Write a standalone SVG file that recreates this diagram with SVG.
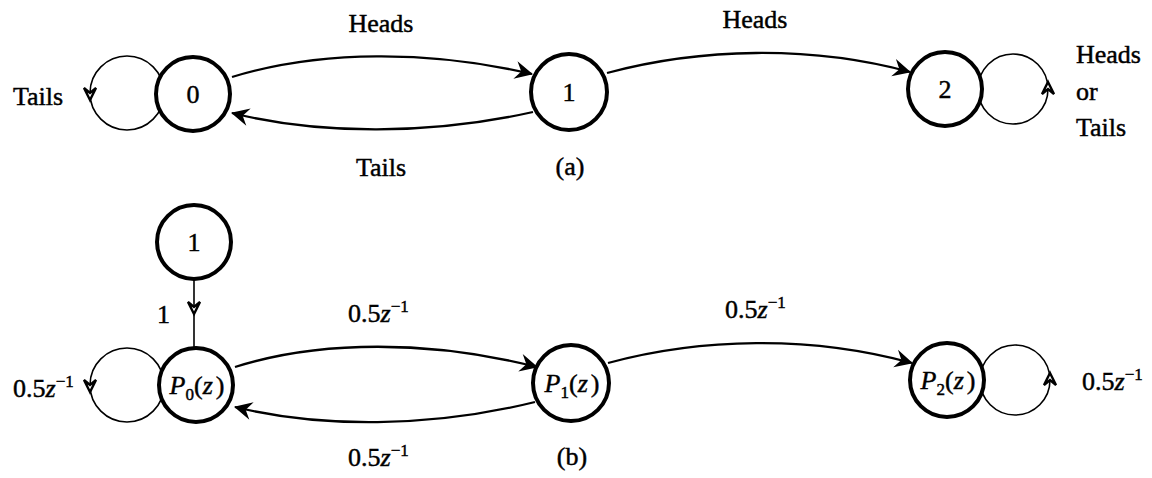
<svg xmlns="http://www.w3.org/2000/svg" width="1152" height="478" viewBox="0 0 1152 478">
<defs>
<style>
text{font-family:"Liberation Serif","Times New Roman",serif;font-size:26px;fill:#000;stroke:#000;stroke-width:0.45}
.node{fill:#fff;stroke:#000;stroke-width:4}
.loop{fill:none;stroke:#000;stroke-width:1.6}
.edge{fill:none;stroke:#000;stroke-width:2.3}
.open{fill:#fff;stroke:#000;stroke-width:2.4;stroke-linejoin:miter}
.it{font-style:italic}
.sub{font-size:17px}
</style>
<marker id="ah" viewBox="-18 -10 20 20" refX="0" refY="0" markerWidth="20" markerHeight="20" markerUnits="userSpaceOnUse" orient="auto">
<path d="M1,0 L-17,-9 L-11,0 L-17,9 Z" fill="#000"/>
</marker>
</defs>

<g id="connectors">
<path class="edge" d="M232,77 C320,50 430,50 532,74" marker-end="url(#ah)"/>
<path class="edge" d="M533,112 C430,135 320,135 232,113" marker-end="url(#ah)"/>
<path class="edge" d="M607,73 C700,48 810,45 910,72" marker-end="url(#ah)"/>
<circle class="loop" cx="127" cy="93" r="37"/>
<path class="open" d="M90,100 L84,88 L90,93 L96,88 Z"/>
<circle class="loop" cx="1013" cy="89" r="35"/>
<path class="open" d="M1048,82 L1054,94 L1048,89 L1042,94 Z"/>

<path class="edge" d="M235,367 C320,340 430,340 537,367" marker-end="url(#ah)"/>
<path class="edge" d="M535,402 C430,428 320,428 235,407" marker-end="url(#ah)"/>
<path class="edge" d="M608,363 C700,338 810,335 912,363" marker-end="url(#ah)"/>
<path class="loop" d="M194,279 L194,347"/>
<path class="open" d="M194,314 L188,302 L194,307 L200,302 Z"/>
<circle class="loop" cx="127" cy="385" r="37"/>
<path class="open" d="M90,392 L84,380 L90,385 L96,380 Z"/>
<circle class="loop" cx="1015" cy="380" r="35"/>
<path class="open" d="M1050,373 L1056,385 L1050,380 L1044,385 Z"/>
</g>

<g id="node-a0"><circle class="node" cx="193" cy="94" r="37" stroke-width="4.5"/><text x="193" y="103" text-anchor="middle">0</text></g>
<g id="node-a1"><circle class="node" cx="569" cy="92" r="38" stroke-width="3.5"/><text x="569" y="101" text-anchor="middle">1</text></g>
<g id="node-a2"><circle class="node" cx="945" cy="89" r="37" stroke-width="4.5"/><text x="945" y="98" text-anchor="middle">2</text></g>

<g id="node-b-one"><circle class="node" cx="194" cy="242" r="37" stroke-width="3.5"/><text x="194" y="251" text-anchor="middle">1</text></g>
<g id="node-b0"><circle class="node" cx="196" cy="385" r="37" stroke-width="4.5"/><text x="197" y="394" text-anchor="middle"><tspan class="it">P</tspan><tspan class="sub" dy="6">0</tspan><tspan dy="-6">(</tspan><tspan class="it">z</tspan><tspan dx="3">)</tspan></text></g>
<g id="node-b1"><circle class="node" cx="571" cy="383" r="38" stroke-width="3.5"/><text x="572" y="392" text-anchor="middle"><tspan class="it">P</tspan><tspan class="sub" dy="6">1</tspan><tspan dy="-6">(</tspan><tspan class="it">z</tspan><tspan dx="3">)</tspan></text></g>
<g id="node-b2"><circle class="node" cx="947" cy="380" r="37" stroke-width="4.5"/><text x="948" y="389" text-anchor="middle"><tspan class="it">P</tspan><tspan class="sub" dy="6">2</tspan><tspan dy="-6">(</tspan><tspan class="it">z</tspan><tspan dx="3">)</tspan></text></g>

<g id="labels">
<text x="381" y="32" text-anchor="middle">Heads</text>
<text x="755" y="28" text-anchor="middle">Heads</text>
<text x="381" y="176" text-anchor="middle">Tails</text>
<text x="570" y="175" text-anchor="middle">(a)</text>
<text x="13" y="105">Tails</text>
<text x="1076" y="63">Heads</text>
<text x="1076" y="100">or</text>
<text x="1076" y="136">Tails</text>

<text x="157" y="323">1</text>
<text x="13" y="397">0.5<tspan class="it">z</tspan><tspan class="sub" dy="-10">−1</tspan></text>
<text x="348" y="322">0.5<tspan class="it">z</tspan><tspan class="sub" dy="-10">−1</tspan></text>
<text x="725" y="318">0.5<tspan class="it">z</tspan><tspan class="sub" dy="-10">−1</tspan></text>
<text x="348" y="466">0.5<tspan class="it">z</tspan><tspan class="sub" dy="-10">−1</tspan></text>
<text x="1082" y="390">0.5<tspan class="it">z</tspan><tspan class="sub" dy="-10">−1</tspan></text>
<text x="572" y="465" text-anchor="middle">(b)</text>
</g>
</svg>
